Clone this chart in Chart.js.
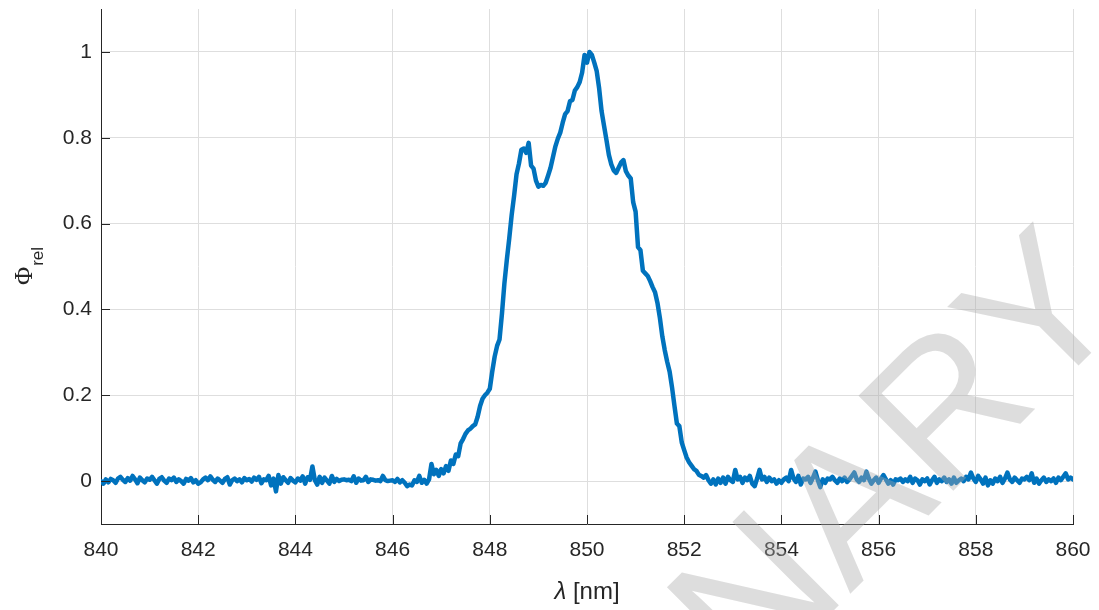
<!DOCTYPE html>
<html>
<head>
<meta charset="utf-8">
<script src="https://cdn.jsdelivr.net/npm/chart.js@4.4.1/dist/chart.umd.min.js"></script>
<style>
  html, body { margin: 0; padding: 0; background: #ffffff; }
  #wrap { width: 1099px; height: 610px; position: relative; }
</style>
</head>
<body>
<div id="wrap"><canvas id="spectrum"></canvas></div>
<script>
// Relative spectral flux, sampled every 0.05 nm from 840 nm to 860 nm
const lambdaStart = 840;
const lambdaStep = 0.05;

// one row per nanometre (20 samples each), last value is 860.00 nm
const phiRel = [
  // 840
  0.000, -0.006, 0.004, -0.003, 0.005, 0.002, -0.004, 0.006, 0.010, 0.003, -0.002, 0.007, 0.001, 0.012, 0.004, -0.005, 0.008, 0.002, -0.003, 0.006,
  // 841
  0.003, 0.010, 0.002, -0.006, 0.005, 0.009, 0.001, -0.004, 0.006, 0.002, 0.008, -0.002, 0.004, 0.000, -0.006, 0.005, 0.001, 0.007, -0.003, 0.002,
  // 842
  -0.006, -0.003, 0.004, 0.008, 0.002, 0.011, 0.003, -0.002, 0.006, 0.001, -0.004, 0.005, 0.009, -0.008, 0.002, 0.006, 0.000, 0.004, -0.003, 0.007,
  // 843
  0.002, 0.005, -0.001, 0.008, 0.003, 0.010, -0.005, 0.004, 0.002, 0.012, -0.010, 0.006, -0.024, 0.014, -0.006, 0.009, 0.002, -0.004, 0.007, 0.001,
  // 844
  -0.003, 0.006, 0.001, 0.011, -0.006, 0.009, 0.003, 0.034, 0.002, -0.008, 0.010, -0.004, 0.008, 0.001, -0.006, 0.012, -0.002, 0.005, 0.000, 0.003,
  // 845
  0.004, 0.002, 0.003, 0.000, 0.011, -0.004, 0.006, 0.001, 0.002, 0.010, -0.002, 0.004, 0.003, 0.001, 0.002, 0.000, 0.012, 0.002, 0.000, 0.001,
  // 846
  0.002, -0.002, 0.005, -0.003, 0.002, -0.004, -0.012, -0.008, -0.010, 0.002, -0.002, 0.012, -0.004, 0.003, -0.006, 0.004, 0.040, 0.016, 0.026, 0.012,
  // 847
  0.028, 0.018, 0.035, 0.024, 0.048, 0.040, 0.062, 0.058, 0.088, 0.098, 0.110, 0.118, 0.122, 0.128, 0.132, 0.150, 0.175, 0.192, 0.200, 0.206,
  // 848
  0.215, 0.255, 0.290, 0.315, 0.330, 0.390, 0.460, 0.515, 0.565, 0.620, 0.665, 0.715, 0.740, 0.772, 0.775, 0.765, 0.788, 0.735, 0.728, 0.700,
  // 849
  0.686, 0.690, 0.688, 0.695, 0.712, 0.730, 0.755, 0.780, 0.798, 0.812, 0.835, 0.855, 0.862, 0.885, 0.888, 0.910, 0.918, 0.930, 0.952, 0.993,
  // 850
  0.975, 1.000, 0.993, 0.975, 0.955, 0.915, 0.862, 0.828, 0.795, 0.760, 0.738, 0.724, 0.718, 0.730, 0.742, 0.748, 0.722, 0.712, 0.705, 0.650,
  // 851
  0.628, 0.545, 0.538, 0.490, 0.484, 0.478, 0.466, 0.452, 0.440, 0.415, 0.380, 0.337, 0.305, 0.278, 0.255, 0.218, 0.175, 0.134, 0.128, 0.090,
  // 852
  0.072, 0.055, 0.044, 0.036, 0.028, 0.024, 0.015, 0.012, 0.008, 0.014, 0.002, -0.006, 0.004, -0.008, 0.006, -0.004, 0.008, -0.006, 0.010, 0.002,
  // 853
  -0.002, 0.026, 0.004, 0.010, -0.004, 0.008, 0.002, 0.012, -0.006, -0.012, 0.006, 0.026, 0.004, 0.010, -0.002, 0.008, 0.000, 0.004, -0.006, 0.002,
  // 854
  -0.004, 0.004, 0.008, 0.000, 0.026, 0.006, -0.002, 0.012, -0.008, 0.006, 0.004, 0.010, -0.004, 0.008, 0.022, 0.002, -0.014, 0.004, -0.004, 0.006,
  // 855
  0.004, 0.010, 0.002, -0.004, 0.006, 0.000, 0.008, -0.002, 0.004, 0.012, 0.020, 0.004, -0.002, 0.008, 0.002, 0.022, 0.006, -0.006, 0.002, 0.008,
  // 856
  -0.004, 0.006, 0.014, 0.004, -0.006, 0.002, -0.008, 0.004, 0.002, 0.006, -0.002, 0.004, 0.000, 0.010, -0.004, 0.006, 0.002, -0.008, 0.004, 0.000,
  // 857
  0.006, -0.008, 0.002, 0.010, -0.004, 0.004, 0.000, 0.008, -0.002, 0.004, -0.006, 0.008, -0.004, 0.002, 0.006, 0.000, 0.010, 0.004, 0.020, 0.006,
  // 858
  -0.002, 0.012, 0.004, -0.006, 0.008, -0.010, 0.002, -0.006, 0.006, 0.000, 0.010, -0.004, 0.006, 0.020, 0.004, -0.002, 0.008, 0.002, -0.004, 0.006,
  // 859
  0.004, 0.010, 0.002, 0.018, -0.004, 0.006, -0.006, 0.002, 0.008, -0.002, 0.004, 0.000, 0.006, -0.004, 0.008, 0.002, 0.010, 0.018, 0.004, 0.008,
  // 860
  0.004
];

const wavelengths = phiRel.map((_, i) => +(lambdaStart + i * lambdaStep).toFixed(2));

const xTicks = [840, 842, 844, 846, 848, 850, 852, 854, 856, 858, 860];
const yTicks = [0, 0.2, 0.4, 0.6, 0.8, 1];
const xRange = [840, 860];
const yRange = [-0.1, 1.1];

const axisColor = '#262626';
const gridColor = '#dedede';
const lineColor = '#0072bd';
const sans = '"Liberation Sans", Arial, Helvetica, sans-serif';

// inward ticks, axis titles and the draft watermark
const decorations = {
  id: 'decorations',
  afterDraw(chart) {
    const { ctx, chartArea: a } = chart;
    const xs = chart.scales.x, ys = chart.scales.y;
    const tickLen = 9;

    ctx.save();
    ctx.strokeStyle = axisColor;
    ctx.lineWidth = 1;
    ctx.beginPath();
    xTicks.forEach(v => {
      const px = Math.round(xs.getPixelForValue(v)) + 0.5;
      ctx.moveTo(px, a.bottom);
      ctx.lineTo(px, a.bottom - tickLen);
    });
    yTicks.forEach(v => {
      const py = Math.round(ys.getPixelForValue(v)) + 0.5;
      ctx.moveTo(a.left, py);
      ctx.lineTo(a.left + tickLen, py);
    });
    ctx.stroke();

    // x-axis title: λ [nm]
    ctx.fillStyle = axisColor;
    ctx.textBaseline = 'alphabetic';
    ctx.textAlign = 'left';
    const fLam = 'italic 24px ' + sans;
    const fUnit = '24px ' + sans;
    ctx.font = fLam;
    const wLam = ctx.measureText('λ').width;
    ctx.font = fUnit;
    const wUnit = ctx.measureText(' [nm]').width;
    const cx = (a.left + a.right) / 2;
    const x0 = cx - (wLam + wUnit) / 2;
    ctx.font = fLam;
    ctx.fillText('λ', x0, 599);
    ctx.font = fUnit;
    ctx.fillText(' [nm]', x0 + wLam, 599);

    // y-axis title: Φ with subscript "rel", rotated
    const fPhi = '25px "Liberation Serif", "DejaVu Serif", serif';
    const fSub = '17px ' + sans;
    ctx.font = fPhi;
    const wPhi = ctx.measureText('Φ').width;
    ctx.font = fSub;
    const wSub = ctx.measureText('rel').width;
    const cy = (a.top + a.bottom) / 2;
    ctx.rotate(-Math.PI / 2);
    const start = -(cy + (wPhi + wSub) / 2);
    ctx.font = fPhi;
    ctx.fillText('Φ', start, 32);
    ctx.font = fSub;
    ctx.fillText('rel', start + wPhi + 1, 43);
    ctx.restore();

    // diagonal draft watermark across the lower right
    ctx.save();
    ctx.translate(1131, 313);
    ctx.rotate(-Math.PI / 4);
    ctx.font = '195px ' + sans;
    ctx.textAlign = 'right';
    ctx.textBaseline = 'alphabetic';
    ctx.fillStyle = 'rgba(170,170,170,0.4)';
    ctx.fillText('PRELIMINARY', 0, 0);
    ctx.restore();
  }
};

new Chart(document.getElementById('spectrum'), {
  type: 'line',
  data: {
    datasets: [{
      data: wavelengths.map((x, i) => ({ x, y: phiRel[i] })),
      borderColor: lineColor,
      borderWidth: 4.5,
      pointRadius: 0,
      tension: 0,
      fill: false,
      borderJoinStyle: 'round',
      borderCapStyle: 'round'
    }]
  },
  options: {
    responsive: true,
    maintainAspectRatio: false,
    animation: false,
    devicePixelRatio: 1,
    layout: { padding: { left: 0, right: 26, top: 9, bottom: 0 } },
    plugins: { legend: { display: false }, tooltip: { enabled: false } },
    scales: {
      x: {
        type: 'linear',
        min: xRange[0],
        max: xRange[1],
        afterBuildTicks: s => { s.ticks = xTicks.map(v => ({ value: v })); },
        afterFit: s => { s.height = 86; s.paddingLeft = 0; s.paddingRight = 0; },
        grid: { color: gridColor, lineWidth: 1, drawTicks: false },
        border: { display: true, color: axisColor, width: 1 },
        ticks: {
          color: axisColor,
          font: { family: sans, size: 21 },
          padding: 14,
          maxRotation: 0,
          autoSkip: false,
          callback: v => String(v)
        }
      },
      y: {
        min: yRange[0],
        max: yRange[1],
        afterBuildTicks: s => { s.ticks = yTicks.map(v => ({ value: v })); },
        afterFit: s => { s.width = 101; s.paddingTop = 0; s.paddingBottom = 0; },
        grid: { color: gridColor, lineWidth: 1, drawTicks: false },
        border: { display: true, color: axisColor, width: 1 },
        ticks: {
          color: axisColor,
          font: { family: sans, size: 21 },
          padding: 9,
          autoSkip: false,
          callback: v => String(Number(v.toFixed(1)))
        }
      }
    }
  },
  plugins: [decorations]
});
</script>
</body>
</html>
